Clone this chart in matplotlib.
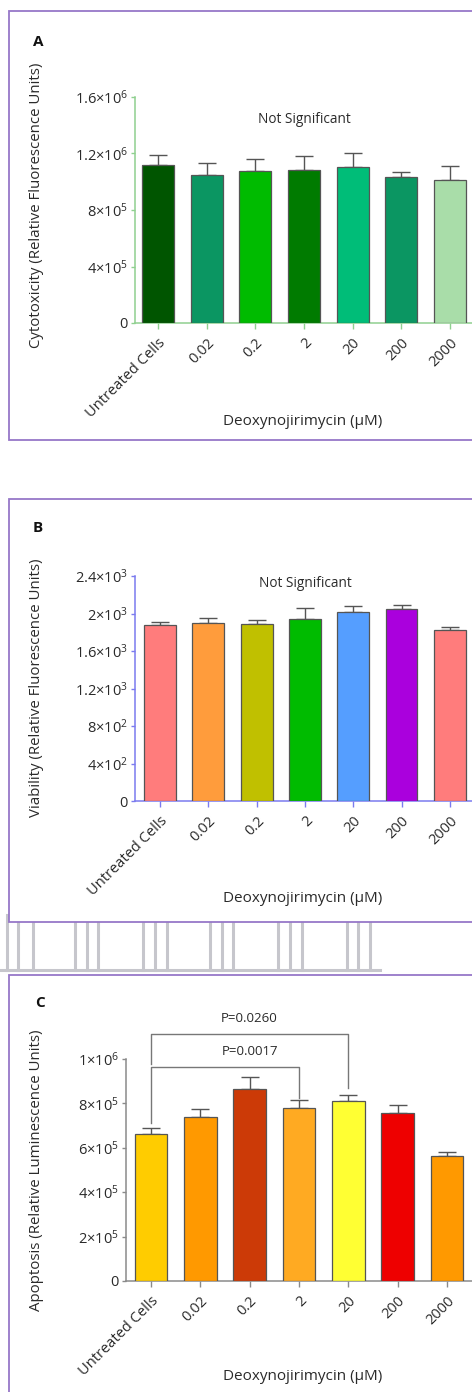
import numpy as np
import matplotlib
matplotlib.use('Agg')
from matplotlib import pyplot as plt
from matplotlib.patches import Rectangle
from matplotlib.lines import Line2D
from matplotlib.ticker import FuncFormatter

plt.rcParams['font.family'] = ['Open Sans', 'DejaVu Sans']
plt.rcParams['mathtext.fontset'] = 'custom'
plt.rcParams['mathtext.rm'] = 'Open Sans'
plt.rcParams['mathtext.it'] = 'Open Sans:italic'
plt.rcParams['mathtext.bf'] = 'Open Sans:bold'

W, H = 472, 1392
TXT = '#2a2a2a'

# data
categories = ['Untreated Cells', '0.02', '0.2', '2', '20', '200', '2000']
x_title = 'Deoxynojirimycin (µM)'

cyto_mean = [1.12e6, 1.05e6, 1.075e6, 1.08e6, 1.105e6, 1.035e6, 1.015e6]
cyto_err = [0.07e6, 0.08e6, 0.087e6, 0.10e6, 0.10e6, 0.033e6, 0.10e6]
cyto_ticks = [0, 4e5, 8e5, 1.2e6, 1.6e6]
cyto_colors = ['#005500', '#0b9662', '#00bb00', '#007b00', '#00bd78', '#0b9662', '#a9dda9']

via_mean = [1877, 1902, 1888, 1938, 2012, 2044, 1820]
via_err = [32, 54, 39, 117, 64, 43, 40]
via_ticks = [0, 400, 800, 1200, 1600, 2000, 2400]
via_colors = ['#ff7c7c', '#ff9c3c', '#c0c000', '#00bb00', '#559eff', '#aa00dd', '#ff7c7c']

apo_mean = [6.62e5, 7.37e5, 8.65e5, 7.79e5, 8.12e5, 7.58e5, 5.63e5]
apo_err = [0.26e5, 0.39e5, 0.52e5, 0.35e5, 0.27e5, 0.35e5, 0.19e5]
apo_ticks = [0, 2e5, 4e5, 6e5, 8e5, 1e6]
apo_colors = ['#ffcc00', '#ff9900', '#cc3a07', '#ffaa22', '#ffff33', '#ee0000', '#ff9900']

# significance brackets for panel C: (left, right, label, height, left leg end, right leg end)
apo_brackets = [
    (0, 3, 'P=0.0017', 0.964e6, 0.712e6, 0.824e6),
    (0, 4, 'P=0.0260', 1.113e6, 0.977e6, 0.869e6),
]


def fx(px):
    return px / W


def fy(py):
    return 1 - py / H


def sci_label(v, pos=None):
    if v == 0:
        return '0'
    e = int(np.floor(np.log10(v) + 1e-9))
    m = v / 10 ** e
    return '%g×10$^{%d}$' % (m, e)


def draw_panel(fig, box, axes_px, xlim, means, errs, colors, ticks, axis_color,
               ylabel, ylabel_y, letter, letter_xy, xlabel_y):
    # white box with purple frame
    top, bottom = box
    fig.add_artist(Rectangle((fx(9), fy(bottom)), 1.2, (bottom - top) / H,
                             transform=fig.transFigure, facecolor='white',
                             edgecolor='#9677c8', linewidth=1.3, zorder=1))
    left, ax_top, ax_bottom = axes_px
    ax = fig.add_axes([fx(left), fy(ax_bottom), 1 - fx(left), (ax_bottom - ax_top) / H])
    ax.set_zorder(2)
    ax.patch.set_alpha(0)

    x = np.arange(len(means))
    ax.bar(x, means, width=0.66, color=colors, edgecolor='#555555', linewidth=0.9, zorder=3)
    ax.errorbar(x, means, yerr=[np.zeros(len(errs)), errs], fmt='none',
                ecolor='#555555', elinewidth=1.0, capsize=6.5, capthick=1.0, zorder=2)

    ax.set_xlim(*xlim)
    ax.set_ylim(0, ticks[-1])
    ax.set_yticks(ticks)
    ax.yaxis.set_major_formatter(FuncFormatter(sci_label))
    ax.set_xticks(x)
    ax.set_xticklabels(categories, rotation=45, ha='right', va='top',
                       rotation_mode='anchor', fontsize=10.5, color=TXT)

    for s in ['top', 'right']:
        ax.spines[s].set_visible(False)
    for s in ['left', 'bottom']:
        ax.spines[s].set_color(axis_color)
        ax.spines[s].set_linewidth(1.1)
    ax.tick_params(axis='y', colors=axis_color, length=3, width=1.0, labelsize=10.5,
                   labelcolor=TXT, pad=2)
    ax.tick_params(axis='x', colors=axis_color, length=4, width=1.0, labelcolor=TXT, pad=5)

    fig.text(fx(37), fy(ylabel_y), ylabel, rotation=90, ha='center', va='center',
             fontsize=10.8, color=TXT)
    fig.text(fx(letter_xy[0]), fy(letter_xy[1]), letter, ha='center', va='center',
             fontsize=11, fontweight='bold', color='#111111')
    fig.text(fx(303), fy(xlabel_y), x_title, ha='center', va='center',
             fontsize=11, color=TXT)
    return ax


fig = plt.figure(figsize=(W / 100, H / 100), dpi=100)

# faint watermark lines showing through between panels B and C
for gx in [7, 18, 33, 75, 87, 98, 143, 155, 167, 210, 222, 233, 278, 290, 302, 347, 358, 370]:
    fig.add_artist(Line2D([fx(gx), fx(gx)], [fy(915), fy(970)], transform=fig.transFigure,
                          color='#c6c6cc', linewidth=2.2, zorder=0))
fig.add_artist(Line2D([0, fx(380)], [fy(970), fy(970)], transform=fig.transFigure,
                      color='#c6c6cc', linewidth=2.2, zorder=0))

ax_a = draw_panel(fig, (11, 440), (135, 97, 323), (-0.473, 6.45), cyto_mean, cyto_err,
                  cyto_colors, cyto_ticks, '#8fd08f',
                  'Cytotoxicity (Relative Fluorescence Units)', 205, 'A', (38, 42), 421)
ax_a.text(3, 1.44e6, 'Not Significant', ha='center', va='center', fontsize=9.8, color=TXT)

ax_b = draw_panel(fig, (499, 922), (135, 576, 801), (-0.52, 6.46), via_mean, via_err,
                  via_colors, via_ticks, '#7b7bef',
                  'Viability (Relative Fluorescence Units)', 688, 'B', (38, 528), 898)
ax_b.text(3, 2.32e3, 'Not Significant', ha='center', va='center', fontsize=9.8, color=TXT)

ax_c = draw_panel(fig, (975, 1500), (126, 1059, 1281), (-0.507, 6.51), apo_mean, apo_err,
                  apo_colors, apo_ticks, '#8a8a8a',
                  'Apoptosis (Relative Luminescence Units)', 1170, 'C', (40, 1003), 1377)
for i0, i1, label, h, l_end, r_end in apo_brackets:
    ax_c.plot([i0, i0, i1, i1], [l_end, h, h, r_end], color='#777777', linewidth=1.0,
              clip_on=False, zorder=4)
    ax_c.text(2, h + 0.04e6, label, ha='center', va='bottom', fontsize=9.5, color=TXT)

fig.savefig('out.png', dpi=100)
